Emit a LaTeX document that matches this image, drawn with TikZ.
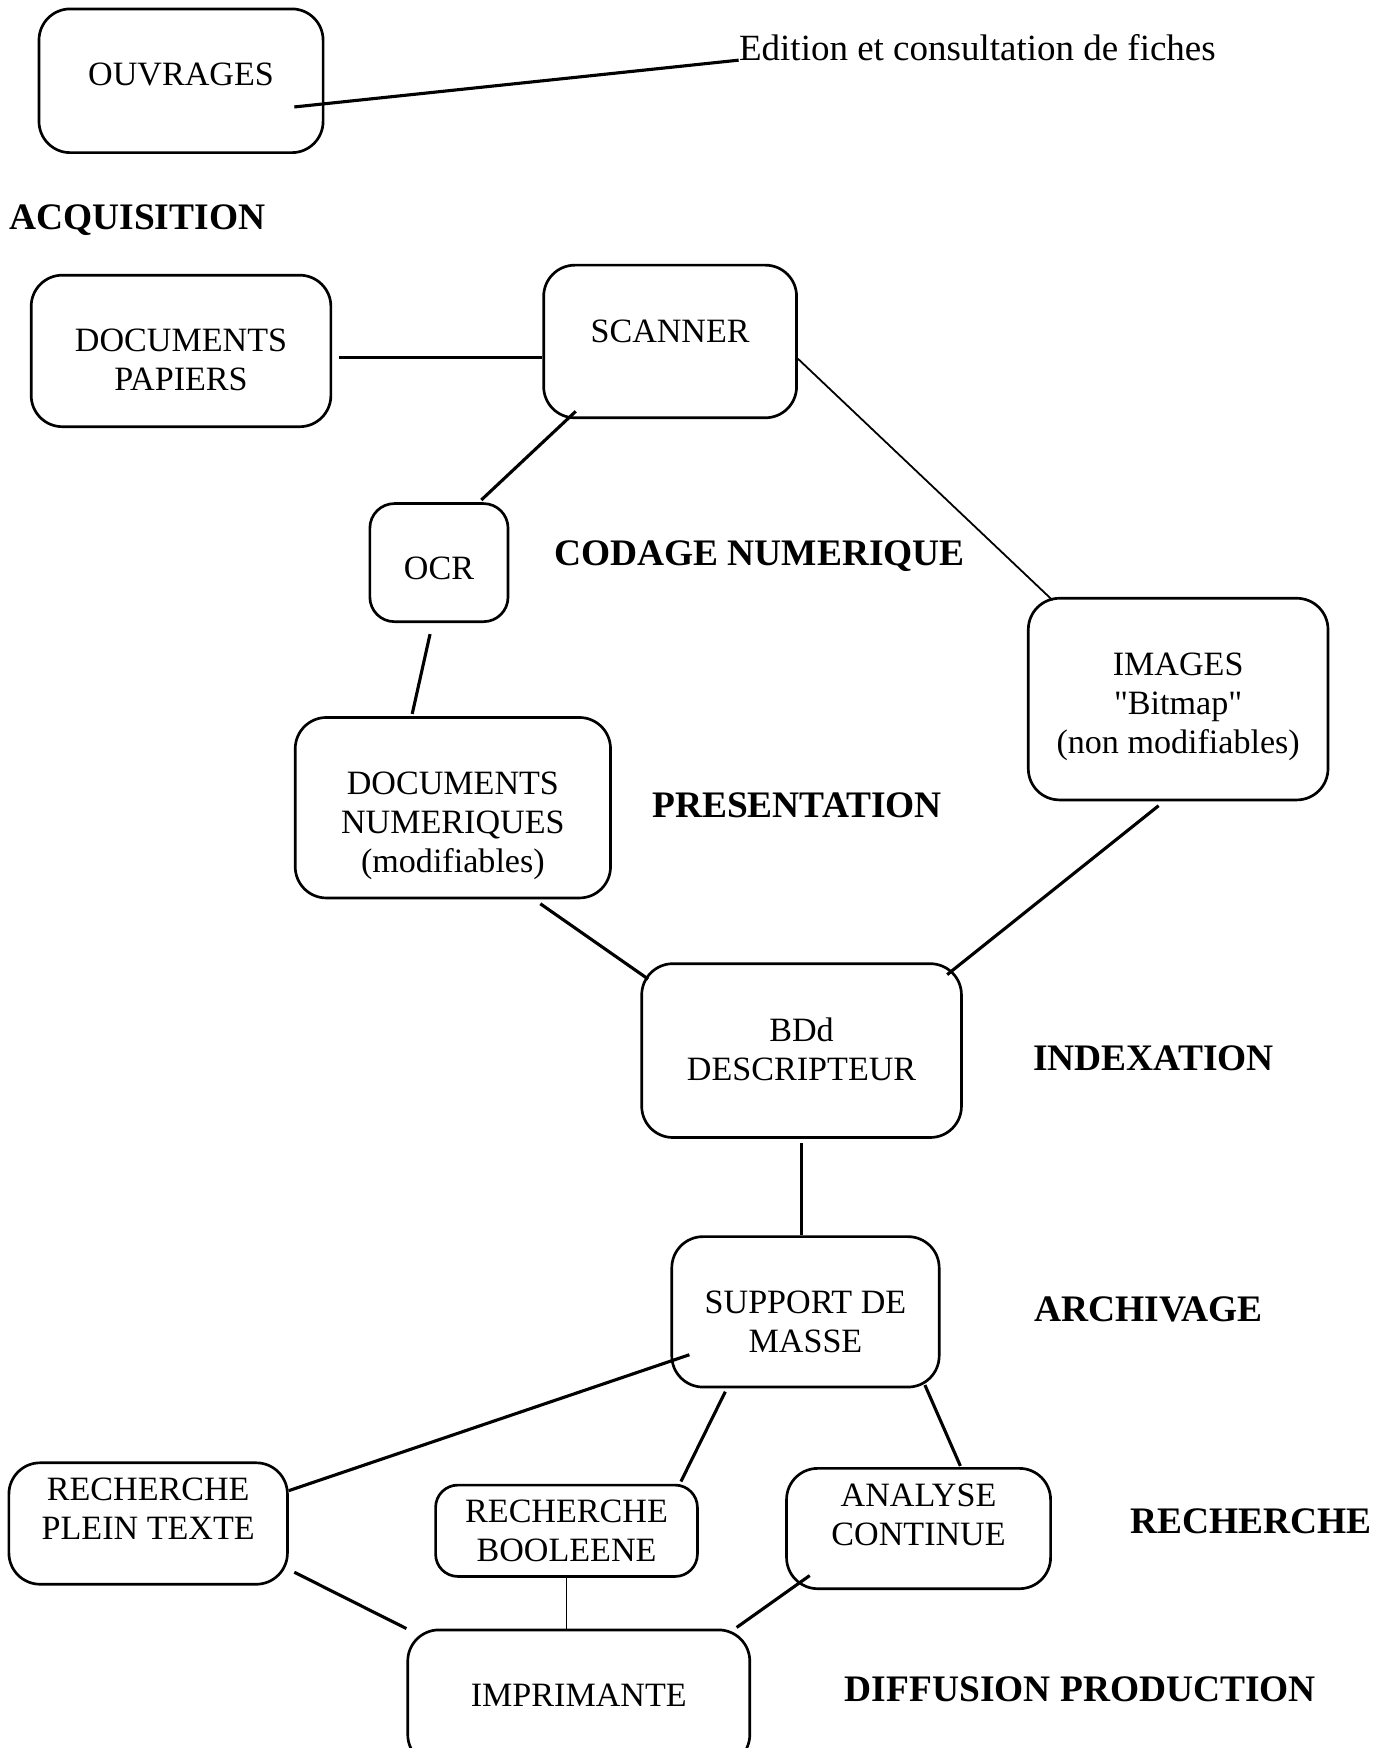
\documentclass[tikz,border=0pt]{standalone}
\usepackage{fontspec}
\setmainfont{Liberation Serif}
\usepackage{tikz}
\usetikzlibrary{positioning}

\newcommand{\boxtext}[2]{\raisebox{#1}[\height][\depth]{\begin{tabular}{@{}c@{}}#2\end{tabular}}}
\newcommand{\dq}{\XeTeXglyph\XeTeXcharglyph34\relax}

\tikzset{
  box/.style={draw, line width=1.2pt, rounded corners=14pt, inner sep=0pt, font=\fontsize{15.3}{17.5}\selectfont},
  stage/.style={anchor=base west, inner sep=0pt, font=\fontsize{16.8}{20}\selectfont\bfseries},
  link/.style={line width=1.4pt},
  thinlink/.style={line width=0.8pt}
}

\begin{document}
\begin{tikzpicture}[x=0.5pt, y=-0.5pt]
  \useasboundingbox (0,0) rectangle (1250,1569);

  \node[box, minimum width=127.5pt, minimum height=64.5pt]  (ouvrages)  at (162.5,72.5)  {\boxtext{1.25pt}{OUVRAGES}};
  \node[anchor=base west, inner sep=0pt, font=\fontsize{16.6}{20}\selectfont]  (edition)  at (663,54)  {Edition et consultation de fiches};
  \node[stage]  (acquisition)  at (8,206)  {ACQUISITION};

  \node[box, minimum width=134.5pt, minimum height=68pt]  (docpap)  at (162.5,315)  {\boxtext{-5.5pt}{DOCUMENTS\\PAPIERS}};
  \node[box, minimum width=113.5pt, minimum height=68.5pt]  (scanner)  at (601.5,306.5)  {\boxtext{3.25pt}{SCANNER}};
  \node[box, rounded corners=11pt, minimum width=62pt, minimum height=53pt]  (ocr)  at (394,505)  {\boxtext{-4pt}{OCR}};
  \node[stage]  (codage)  at (497,508)  {CODAGE NUMERIQUE};
  \node[box, minimum width=134.5pt, minimum height=90.5pt]  (images)  at (1057.5,627.5)  {\boxtext{-3.25pt}{IMAGES\\\dq Bitmap\dq\\(non modifiables)}};

  \node[box, minimum width=141.5pt, minimum height=81pt]  (docnum)  at (406.5,725)  {\boxtext{-8pt}{DOCUMENTS\\NUMERIQUES\\(modifiables)}};
  \node[stage]  (presentation)  at (585,734)  {PRESENTATION};

  \node[box, minimum width=143.5pt, minimum height=78pt]  (bdd)  at (719.5,943)  {\boxtext{-1pt}{BDd\\DESCRIPTEUR}};
  \node[stage]  (indexation)  at (927,961)  {INDEXATION};

  \node[box, minimum width=120pt, minimum height=67.5pt]  (support)  at (723,1177.5)  {\boxtext{-6pt}{SUPPORT DE\\MASSE}};
  \node[stage]  (archivage)  at (928,1186)  {ARCHIVAGE};

  \node[box, minimum width=125pt, minimum height=54.5pt]  (rpt)  at (133,1367.5)  {\boxtext{5pt}{RECHERCHE\\PLEIN TEXTE}};
  \node[box, rounded corners=10pt, minimum width=117.5pt, minimum height=41pt]  (bool)  at (508.5,1374)  {\boxtext{-1.5pt}{RECHERCHE\\BOOLEENE}};
  \node[box, minimum width=118.5pt, minimum height=54pt]  (analyse)  at (824.5,1372)  {\boxtext{4.75pt}{ANALYSE\\CONTINUE}};
  \node[stage]  (recherche)  at (1014,1376)  {RECHERCHE};

  \node[box, minimum width=153.5pt, minimum height=61pt]  (imp)  at (519.5,1524)  {\boxtext{-0.5pt}{IMPRIMANTE}};
  \node[stage]  (diffusion)  at (758,1527)  {DIFFUSION PRODUCTION};

  \draw[link] ([shift={(-27,23.5)}]ouvrages.east) -- (edition.base west);
  \draw[link] ([shift={(6,6)}]docpap.east) -- ([shift={(0,14.5)}]scanner.west);
  \draw[link] ([shift={(30,-7)}]scanner.south west) -- ([shift={(38,-2)}]ocr.north);
  \draw[thinlink] ([shift={(0,15.5)}]scanner.east) -- ([shift={(23,3)}]images.north west);
  \draw[link] ([shift={(-8,10)}]ocr.south) -- ([shift={(-36.5,-2)}]docnum.north);
  \draw[link] ([shift={(78.5,4)}]docnum.south) -- ([shift={(7,15)}]bdd.north west);
  \draw[link] ([shift={(-17.5,4)}]images.south) -- ([shift={(-14,11)}]bdd.north east);
  \draw[link] ([shift={(0,4)}]bdd.south) -- (bdd.south |- support.north);
  \draw[link] ([shift={(17,38.5)}]support.west) -- ([shift={(0,-29.5)}]rpt.east);
  \draw[link] ([shift={(-72,3)}]support.south) -- ([shift={(-16,-2)}]bool.north east);
  \draw[link] ([shift={(-14,-3)}]support.south east) -- ([shift={(37.5,-1)}]analyse.north);
  \draw[link] ([shift={(5,-12)}]rpt.south east) -- (imp.north west);
  \draw[thinlink] (bool.south) -- (bool.south |- imp.north);
  \draw[link] ([shift={(22,-13)}]analyse.south west) -- ([shift={(-13,-1)}]imp.north east);
\end{tikzpicture}
\end{document}
